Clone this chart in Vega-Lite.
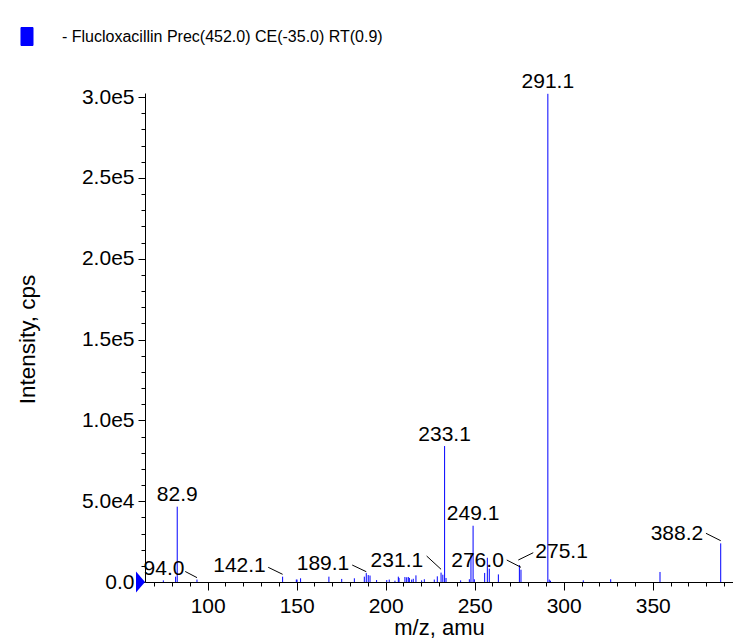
{
  "$schema": "https://vega.github.io/schema/vega-lite/v6.json",
  "width": 588,
  "height": 489,
  "autosize": {"type": "none"},
  "padding": {"left": 145, "top": 93, "right": 0, "bottom": 57},
  "background": "white",
  "config": {
    "view": {"stroke": null},
    "font": "Liberation Sans",
    "text": {"font": "Liberation Sans"}
  },
  "resolve": {"axis": {"x": "independent", "y": "independent"}},
  "datasets": {
    "peaks": [
      {"mz": 75.1, "intensity": 1000, "series": "- Flucloxacillin Prec(452.0) CE(-35.0) RT(0.9)"},
      {"mz": 82.0, "intensity": 3300, "series": "- Flucloxacillin Prec(452.0) CE(-35.0) RT(0.9)"},
      {"mz": 82.9, "intensity": 46600, "series": "- Flucloxacillin Prec(452.0) CE(-35.0) RT(0.9)"},
      {"mz": 94.0, "intensity": 1500, "series": "- Flucloxacillin Prec(452.0) CE(-35.0) RT(0.9)"},
      {"mz": 142.1, "intensity": 3300, "series": "- Flucloxacillin Prec(452.0) CE(-35.0) RT(0.9)"},
      {"mz": 149.8, "intensity": 1500, "series": "- Flucloxacillin Prec(452.0) CE(-35.0) RT(0.9)"},
      {"mz": 150.2, "intensity": 1500, "series": "- Flucloxacillin Prec(452.0) CE(-35.0) RT(0.9)"},
      {"mz": 152.2, "intensity": 2300, "series": "- Flucloxacillin Prec(452.0) CE(-35.0) RT(0.9)"},
      {"mz": 168.1, "intensity": 3300, "series": "- Flucloxacillin Prec(452.0) CE(-35.0) RT(0.9)"},
      {"mz": 175.3, "intensity": 1900, "series": "- Flucloxacillin Prec(452.0) CE(-35.0) RT(0.9)"},
      {"mz": 182.4, "intensity": 2300, "series": "- Flucloxacillin Prec(452.0) CE(-35.0) RT(0.9)"},
      {"mz": 188.0, "intensity": 3300, "series": "- Flucloxacillin Prec(452.0) CE(-35.0) RT(0.9)"},
      {"mz": 189.1, "intensity": 5500, "series": "- Flucloxacillin Prec(452.0) CE(-35.0) RT(0.9)"},
      {"mz": 190.2, "intensity": 4300, "series": "- Flucloxacillin Prec(452.0) CE(-35.0) RT(0.9)"},
      {"mz": 191.2, "intensity": 4000, "series": "- Flucloxacillin Prec(452.0) CE(-35.0) RT(0.9)"},
      {"mz": 194.9, "intensity": 1200, "series": "- Flucloxacillin Prec(452.0) CE(-35.0) RT(0.9)"},
      {"mz": 200.6, "intensity": 1200, "series": "- Flucloxacillin Prec(452.0) CE(-35.0) RT(0.9)"},
      {"mz": 202.0, "intensity": 1500, "series": "- Flucloxacillin Prec(452.0) CE(-35.0) RT(0.9)"},
      {"mz": 205.2, "intensity": 800, "series": "- Flucloxacillin Prec(452.0) CE(-35.0) RT(0.9)"},
      {"mz": 207.1, "intensity": 3300, "series": "- Flucloxacillin Prec(452.0) CE(-35.0) RT(0.9)"},
      {"mz": 207.5, "intensity": 2500, "series": "- Flucloxacillin Prec(452.0) CE(-35.0) RT(0.9)"},
      {"mz": 210.8, "intensity": 3100, "series": "- Flucloxacillin Prec(452.0) CE(-35.0) RT(0.9)"},
      {"mz": 211.8, "intensity": 2900, "series": "- Flucloxacillin Prec(452.0) CE(-35.0) RT(0.9)"},
      {"mz": 212.7, "intensity": 3100, "series": "- Flucloxacillin Prec(452.0) CE(-35.0) RT(0.9)"},
      {"mz": 213.3, "intensity": 2500, "series": "- Flucloxacillin Prec(452.0) CE(-35.0) RT(0.9)"},
      {"mz": 214.6, "intensity": 1500, "series": "- Flucloxacillin Prec(452.0) CE(-35.0) RT(0.9)"},
      {"mz": 215.5, "intensity": 2000, "series": "- Flucloxacillin Prec(452.0) CE(-35.0) RT(0.9)"},
      {"mz": 217.0, "intensity": 4100, "series": "- Flucloxacillin Prec(452.0) CE(-35.0) RT(0.9)"},
      {"mz": 220.2, "intensity": 1000, "series": "- Flucloxacillin Prec(452.0) CE(-35.0) RT(0.9)"},
      {"mz": 221.7, "intensity": 1700, "series": "- Flucloxacillin Prec(452.0) CE(-35.0) RT(0.9)"},
      {"mz": 227.3, "intensity": 1500, "series": "- Flucloxacillin Prec(452.0) CE(-35.0) RT(0.9)"},
      {"mz": 229.0, "intensity": 3500, "series": "- Flucloxacillin Prec(452.0) CE(-35.0) RT(0.9)"},
      {"mz": 231.1, "intensity": 5800, "series": "- Flucloxacillin Prec(452.0) CE(-35.0) RT(0.9)"},
      {"mz": 232.1, "intensity": 4500, "series": "- Flucloxacillin Prec(452.0) CE(-35.0) RT(0.9)"},
      {"mz": 233.1, "intensity": 84100, "series": "- Flucloxacillin Prec(452.0) CE(-35.0) RT(0.9)"},
      {"mz": 233.9, "intensity": 2500, "series": "- Flucloxacillin Prec(452.0) CE(-35.0) RT(0.9)"},
      {"mz": 242.1, "intensity": 1000, "series": "- Flucloxacillin Prec(452.0) CE(-35.0) RT(0.9)"},
      {"mz": 247.0, "intensity": 1700, "series": "- Flucloxacillin Prec(452.0) CE(-35.0) RT(0.9)"},
      {"mz": 247.9, "intensity": 17000, "series": "- Flucloxacillin Prec(452.0) CE(-35.0) RT(0.9)"},
      {"mz": 249.1, "intensity": 34800, "series": "- Flucloxacillin Prec(452.0) CE(-35.0) RT(0.9)"},
      {"mz": 249.8, "intensity": 1700, "series": "- Flucloxacillin Prec(452.0) CE(-35.0) RT(0.9)"},
      {"mz": 255.6, "intensity": 5600, "series": "- Flucloxacillin Prec(452.0) CE(-35.0) RT(0.9)"},
      {"mz": 257.1, "intensity": 15000, "series": "- Flucloxacillin Prec(452.0) CE(-35.0) RT(0.9)"},
      {"mz": 258.2, "intensity": 8250, "series": "- Flucloxacillin Prec(452.0) CE(-35.0) RT(0.9)"},
      {"mz": 263.3, "intensity": 4700, "series": "- Flucloxacillin Prec(452.0) CE(-35.0) RT(0.9)"},
      {"mz": 275.1, "intensity": 10500, "series": "- Flucloxacillin Prec(452.0) CE(-35.0) RT(0.9)"},
      {"mz": 276.0, "intensity": 7600, "series": "- Flucloxacillin Prec(452.0) CE(-35.0) RT(0.9)"},
      {"mz": 291.1, "intensity": 302000, "series": "- Flucloxacillin Prec(452.0) CE(-35.0) RT(0.9)"},
      {"mz": 291.9, "intensity": 1500, "series": "- Flucloxacillin Prec(452.0) CE(-35.0) RT(0.9)"},
      {"mz": 292.6, "intensity": 800, "series": "- Flucloxacillin Prec(452.0) CE(-35.0) RT(0.9)"},
      {"mz": 311.0, "intensity": 1000, "series": "- Flucloxacillin Prec(452.0) CE(-35.0) RT(0.9)"},
      {"mz": 326.4, "intensity": 1700, "series": "- Flucloxacillin Prec(452.0) CE(-35.0) RT(0.9)"},
      {"mz": 354.1, "intensity": 6200, "series": "- Flucloxacillin Prec(452.0) CE(-35.0) RT(0.9)"},
      {"mz": 388.2, "intensity": 23900, "series": "- Flucloxacillin Prec(452.0) CE(-35.0) RT(0.9)"}
    ],
    "toplabels": [
      {"label": "291.1", "mz": 291.1, "intensity": 302000},
      {"label": "233.1", "mz": 233.1, "intensity": 84100},
      {"label": "82.9", "mz": 82.9, "intensity": 46600},
      {"label": "249.1", "mz": 249.1, "intensity": 34800}
    ],
    "leaderlabels": [
      {"label": "94.0", "mz": 94.0, "ey": 2700, "tx": 75.5, "ty": 4330, "sx": 87.4, "sy": 6500},
      {"label": "142.1", "mz": 142.1, "ey": 4760, "tx": 117.9, "ty": 6370, "sx": 134.0, "sy": 9090},
      {"label": "189.1", "mz": 189.1, "ey": 6370, "tx": 164.8, "ty": 7420, "sx": 181.2, "sy": 10500},
      {"label": "231.1", "mz": 231.1, "ey": 7860, "tx": 206.3, "ty": 9280, "sx": 223.0, "sy": 16080},
      {"label": "276.0", "mz": 276.0, "ey": 9090, "tx": 251.6, "ty": 9090, "sx": 268.0, "sy": 13600},
      {"label": "275.1", "mz": 274.5, "ey": 13600, "tx": 298.8, "ty": 14660, "sx": 282.9, "sy": 18120},
      {"label": "388.2", "mz": 388.2, "ey": 25550, "tx": 363.6, "ty": 25980, "sx": 379.9, "sy": 30130}
    ]
  },
  "layer": [
    {
      "data": {"name": "peaks"},
      "mark": {"type": "rule", "strokeWidth": 1},
      "encoding": {
        "x": {
          "field": "mz",
          "type": "quantitative",
          "scale": {"domain": [64.8, 395.1], "nice": false, "zero": false},
          "axis": {
            "orient": "bottom",
            "title": "m/z, amu",
            "values": [100, 150, 200, 250, 300, 350],
            "tickSize": 8,
            "labelFontSize": 21,
            "labelFont": "Liberation Sans",
            "titleFont": "Liberation Sans",
            "titleFontSize": 22,
            "titleFontWeight": "normal",
            "labelPadding": 5,
            "labelOverlap": false,
            "labelFlush": false,
            "domainColor": "black",
            "tickColor": "black",
            "labelColor": "black",
            "titleColor": "black",
            "grid": false,
            "titleY": 35,
            "titleBaseline": "top"
          }
        },
        "y": {
          "field": "intensity",
          "type": "quantitative",
          "scale": {"domain": [0, 302500], "nice": false},
          "axis": {
            "orient": "left",
            "title": "Intensity, cps",
            "values": [0, 50000, 100000, 150000, 200000, 250000, 300000],
            "labelExpr": "datum.value === 0 ? '0.0' : replace(format(datum.value, '.1e'), 'e+', 'e')",
            "tickSize": 7,
            "labelFontSize": 21,
            "labelFont": "Liberation Sans",
            "titleFont": "Liberation Sans",
            "titleFontSize": 22.5,
            "titleFontWeight": "normal",
            "labelPadding": 4,
            "labelOverlap": false,
            "labelFlush": false,
            "domainColor": "black",
            "tickColor": "black",
            "labelColor": "black",
            "titleColor": "black",
            "grid": false,
            "titleX": -106,
            "titleY": 246,
            "titleAngle": 270,
            "titleBaseline": "bottom"
          }
        },
        "y2": {"datum": 0},
        "color": {
          "field": "series",
          "type": "nominal",
          "scale": {"range": ["#0000ff"]},
          "legend": {
            "orient": "none",
            "legendX": -127.5,
            "legendY": -66,
            "title": null,
            "padding": 0,
            "labelFontSize": 16,
            "labelFont": "Liberation Sans",
            "labelColor": "black",
            "labelLimit": 1000,
            "labelOffset": 25.5,
            "symbolType": "M-0.667,-1H0.667V1H-0.667Z",
            "symbolSize": 324,
            "encode": {
              "symbols": {
                "update": {
                  "fill": {"value": "#0000ff"},
                  "stroke": {"value": "#1a1a40"},
                  "strokeWidth": {"value": 1},
                  "size": {"value": 324},
                  "opacity": {"value": 1}
                }
              }
            }
          }
        }
      }
    },
    {
      "data": {"name": "leaderlabels"},
      "mark": {"type": "rule", "color": "black", "strokeWidth": 1},
      "encoding": {
        "x": {
          "field": "sx",
          "type": "quantitative",
          "axis": {
            "orient": "bottom",
            "title": null,
            "values": [70,80,90,110,120,130,140,160,170,180,190,210,220,230,240,260,270,280,290,310,320,330,340,360,370,380,390],
            "labels": false,
            "domain": false,
            "grid": false,
            "tickSize": 4,
            "tickColor": "black"
          }
        },
        "y": {
          "field": "sy",
          "type": "quantitative",
          "axis": {
            "orient": "left",
            "title": null,
            "values": [10000,20000,30000,40000,60000,70000,80000,90000,110000,120000,130000,140000,160000,170000,180000,190000,210000,220000,230000,240000,260000,270000,280000,290000],
            "labels": false,
            "domain": false,
            "grid": false,
            "tickSize": 4,
            "tickColor": "black"
          }
        },
        "x2": {"field": "mz"},
        "y2": {"field": "ey"}
      }
    },
    {
      "data": {"name": "leaderlabels"},
      "mark": {"type": "text", "align": "center", "baseline": "alphabetic", "fontSize": 21, "font": "Liberation Sans", "color": "black"},
      "encoding": {
        "x": {"field": "tx", "type": "quantitative", "axis": null},
        "y": {"field": "ty", "type": "quantitative", "axis": null},
        "text": {"field": "label"}
      }
    },
    {
      "data": {"name": "toplabels"},
      "mark": {"type": "text", "align": "center", "baseline": "alphabetic", "dy": -5.5, "fontSize": 21, "font": "Liberation Sans", "color": "black", "clip": false},
      "encoding": {
        "x": {"field": "mz", "type": "quantitative", "axis": null},
        "y": {"field": "intensity", "type": "quantitative", "axis": null},
        "text": {"field": "label"}
      }
    },
    {
      "data": {"values": [{"start": 64.8}]},
      "mark": {"type": "point", "shape": "M-0.857,-1L0,0L-0.857,1Z", "filled": true, "color": "#0000ff", "size": 441, "opacity": 1, "clip": false},
      "encoding": {
        "x": {"field": "start", "type": "quantitative", "axis": null},
        "y": {"datum": 0, "axis": null}
      }
    }
  ]
}
